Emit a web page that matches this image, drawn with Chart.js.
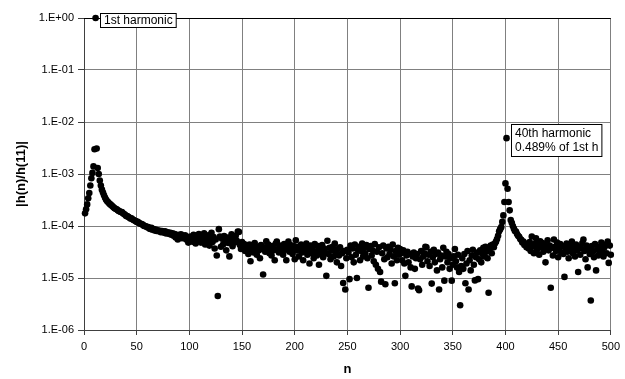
<!DOCTYPE html>
<html>
<head>
<meta charset="utf-8">
<script src="https://cdn.jsdelivr.net/npm/chart.js@4/dist/chart.umd.min.js"></script>
<style>
  body { margin: 0; background: #fff; }
  canvas { display: block; }
</style>
</head>
<body>
<canvas id="chart" width="625" height="379"></canvas>
<script>
// |h(n)/h(11)| for n = 1..500
const nStart = 1;
const ratio001to100 = [
  1.75e-4, 2.1e-4, 2.6e-4, 3.4e-4, 4.3e-4, 6.0e-4, 8.3e-4, 1.05e-3, 1.4e-3, 3.0e-3,
  1.0, 3.1e-3, 1.3e-3, 1.0e-3, 7.5e-4, 6.0e-4, 5.0e-4, 4.4e-4, 3.9e-4, 3.5e-4,
  3.2e-4, 3.0e-4, 2.85e-4, 2.7e-4, 2.6e-4, 2.5e-4, 2.4e-4, 2.3e-4, 2.2e-4, 2.15e-4,
  2.1e-4, 2.0e-4, 1.95e-4, 1.9e-4, 1.85e-4, 1.85e-4, 1.75e-4, 1.7e-4, 1.65e-4, 1.55e-4,
  1.55e-4, 1.5e-4, 1.45e-4, 1.4e-4, 1.4e-4, 1.35e-4, 1.3e-4, 1.28e-4, 1.25e-4, 1.2e-4,
  1.2e-4, 1.15e-4, 1.12e-4, 1.1e-4, 1.08e-4, 1.05e-4, 1.0e-4, 1.0e-4, 9.8e-5, 9.5e-5,
  9.5e-5, 9.0e-5, 8.8e-5, 9.2e-5, 8.5e-5, 8.7e-5, 8.2e-5, 8.5e-5, 8.0e-5, 8.3e-5,
  7.9e-5, 8.1e-5, 7.6e-5, 8.0e-5, 7.8e-5, 7.4e-5, 7.9e-5, 7.2e-5, 7.6e-5, 7.5e-5,
  7.0e-5, 7.4e-5, 6.8e-5, 7.2e-5, 6.5e-5, 7.0e-5, 6.0e-5, 6.8e-5, 5.5e-5, 6.7e-5,
  6.4e-5, 6.9e-5, 5.8e-5, 6.5e-5, 6.2e-5, 6.6e-5, 5.5e-5, 6.0e-5, 4.8e-5, 6.2e-5
];
const ratio101to200 = [
  5.5e-5, 6.3e-5, 5.0e-5, 6.8e-5, 5.8e-5, 4.6e-5, 6.5e-5, 5.2e-5, 7.0e-5, 5.6e-5,
  4.8e-5, 6.2e-5, 5.4e-5, 7.2e-5, 4.4e-5, 6.0e-5, 5.1e-5, 6.6e-5, 4.2e-5, 5.8e-5,
  7.4e-5, 4.9e-5, 6.1e-5, 3.7e-5, 5.5e-5, 2.7e-5, 4.5e-6, 8.7e-5, 6.3e-5, 4.0e-5,
  5.7e-5, 4.4e-5, 6.4e-5, 5.0e-5, 3.4e-5, 6.0e-5, 4.7e-5, 2.6e-5, 5.4e-5, 6.9e-5,
  4.1e-5, 5.9e-5, 4.8e-5, 6.5e-5, 5.2e-5, 7.8e-5, 7.7e-5, 4.3e-5, 3.6e-5, 4.9e-5,
  3.8e-5, 4.5e-5, 3.3e-5, 4.1e-5, 3.6e-5, 2.9e-5, 4.4e-5, 2.1e-5, 3.5e-5, 4.2e-5,
  3.1e-5, 4.7e-5, 3.7e-5, 2.8e-5, 4.0e-5, 3.4e-5, 2.4e-5, 4.3e-5, 3.6e-5, 1.17e-5,
  3.9e-5, 3.2e-5, 5.1e-5, 3.5e-5, 4.4e-5, 3.0e-5, 3.8e-5, 2.7e-5, 4.1e-5, 3.4e-5,
  2.2e-5, 4.6e-5, 5.0e-5, 3.6e-5, 3.1e-5, 4.2e-5, 3.3e-5, 3.9e-5, 2.8e-5, 4.5e-5,
  3.5e-5, 2.2e-5, 4.0e-5, 5.0e-5, 3.2e-5, 4.3e-5, 3.7e-5, 2.9e-5, 4.1e-5, 2.3e-5
];
const ratio201to300 = [
  5.3e-5, 3.4e-5, 4.0e-5, 2.6e-5, 3.7e-5, 4.4e-5, 3.1e-5, 2.2e-5, 3.9e-5, 3.3e-5,
  4.6e-5, 2.8e-5, 3.6e-5, 1.9e-5, 4.2e-5, 3.0e-5, 3.8e-5, 2.4e-5, 4.5e-5, 3.2e-5,
  2.7e-5, 4.1e-5, 1.8e-5, 3.5e-5, 2.9e-5, 4.3e-5, 2.5e-5, 3.7e-5, 3.1e-5, 1.1e-5,
  5.2e-5, 2.9e-5, 3.8e-5, 2.3e-5, 3.4e-5, 4.0e-5, 2.6e-5, 4.6e-5, 3.2e-5, 2.0e-5,
  3.6e-5, 2.7e-5, 3.9e-5, 1.7e-5, 3.0e-5, 8.0e-6, 3.3e-5, 6.0e-6, 2.4e-5, 3.5e-5,
  3.1e-5, 9.5e-6, 4.2e-5, 2.5e-5, 3.7e-5, 2.0e-5, 4.4e-5, 2.8e-5, 1.0e-5, 3.5e-5,
  4.0e-5, 2.2e-5, 3.3e-5, 4.6e-5, 2.6e-5, 3.8e-5, 3.0e-5, 4.3e-5, 2.4e-5, 6.5e-6,
  3.6e-5, 4.1e-5, 2.7e-5, 3.4e-5, 2.1e-5, 4.5e-5, 1.8e-5, 3.2e-5, 1.5e-5, 3.9e-5,
  1.3e-5, 8.5e-6, 3.0e-5, 4.2e-5, 2.3e-5, 7.6e-6, 3.7e-5, 2.5e-5, 4.0e-5, 2.9e-5,
  3.5e-5, 1.9e-5, 4.4e-5, 2.6e-5, 7.9e-6, 3.3e-5, 2.2e-5, 3.8e-5, 2.8e-5, 3.6e-5
];
const ratio301to400 = [
  3.0e-5, 2.2e-5, 3.4e-5, 1.9e-5, 1.1e-5, 2.7e-5, 3.2e-5, 2.0e-5, 2.9e-5, 1.6e-5,
  6.9e-6, 2.6e-5, 3.1e-5, 1.5e-5, 2.4e-5, 2.9e-5, 6.3e-6, 5.8e-6, 2.3e-5, 3.3e-5,
  1.8e-5, 2.6e-5, 3.0e-5, 4.0e-5, 3.9e-5, 2.1e-5, 2.8e-5, 1.7e-5, 3.2e-5, 7.8e-6,
  2.5e-5, 3.5e-5, 2.0e-5, 2.9e-5, 1.4e-5, 3.1e-5, 6.0e-6, 2.3e-5, 2.7e-5, 1.6e-5,
  3.8e-5, 8.9e-6, 2.6e-5, 3.2e-5, 2.0e-5, 2.9e-5, 1.5e-5, 2.4e-5, 8.9e-6, 1.8e-5,
  2.6e-5, 3.6e-5, 2.1e-5, 1.6e-5, 2.8e-5, 1.3e-5, 3.0e-6, 1.7e-5, 2.4e-5, 1.5e-5,
  2.9e-5, 7.9e-6, 1.9e-5, 3.3e-5, 6.0e-6, 2.2e-5, 1.4e-5, 2.7e-5, 3.5e-5, 1.8e-5,
  9.0e-6, 2.5e-5, 3.1e-5, 9.5e-6, 2.3e-5, 3.4e-5, 2.0e-5, 2.9e-5, 3.8e-5, 2.6e-5,
  4.0e-5, 3.2e-5, 2.4e-5, 5.2e-6, 3.6e-5, 4.2e-5, 3.0e-5, 4.4e-5, 3.9e-5, 4.6e-5,
  5.0e-5, 5.6e-5, 6.5e-5, 7.9e-5, 8.7e-5, 9.5e-5, 1.2e-4, 1.6e-4, 2.9e-4, 6.6e-4
];
const ratio401to500 = [
  4.89e-3, 5.2e-4, 2.9e-4, 2.0e-4, 1.3e-4, 1.15e-4, 1.0e-4, 8.9e-5, 8.0e-5, 7.8e-5,
  7.0e-5, 6.5e-5, 6.2e-5, 5.6e-5, 5.4e-5, 4.8e-5, 5.0e-5, 4.3e-5, 4.6e-5, 3.9e-5,
  4.5e-5, 3.7e-5, 4.9e-5, 3.3e-5, 6.3e-5, 4.1e-5, 3.0e-5, 4.6e-5, 5.8e-5, 3.5e-5,
  4.3e-5, 2.8e-5, 5.1e-5, 3.9e-5, 4.7e-5, 3.2e-5, 4.4e-5, 2.0e-5, 3.6e-5, 5.3e-5,
  3.4e-5, 4.2e-5, 6.5e-6, 3.8e-5, 2.7e-5, 5.5e-5, 4.0e-5, 3.3e-5, 4.8e-5, 2.5e-5,
  3.7e-5, 4.5e-5, 3.1e-5, 4.1e-5, 2.9e-5, 1.05e-5, 3.6e-5, 4.6e-5, 3.2e-5, 2.4e-5,
  4.3e-5, 3.5e-5, 5.0e-5, 3.0e-5, 3.9e-5, 2.6e-5, 4.4e-5, 3.4e-5, 1.3e-5, 4.0e-5,
  2.8e-5, 3.7e-5, 4.7e-5, 5.5e-5, 3.3e-5, 2.3e-5, 4.2e-5, 1.6e-5, 3.6e-5, 2.9e-5,
  3.7e-6, 4.1e-5, 3.2e-5, 2.5e-5, 4.5e-5, 1.4e-5, 3.5e-5, 2.7e-5, 4.0e-5, 3.1e-5,
  4.8e-5, 3.4e-5, 2.6e-5, 3.9e-5, 4.4e-5, 3.0e-5, 5.0e-5, 1.95e-5, 4.2e-5, 2.8e-5
];

const yTickValues = [1e-6, 1e-5, 1e-4, 1e-3, 1e-2, 1e-1, 1];
const yTickLabels = ['1.E-06', '1.E-05', '1.E-04', '1.E-03', '1.E-02', '1.E-01', '1.E+00'];
const xMin = 0, xMax = 500, xStep = 50;

const notes = [
  { n: 11, lines: ['1st harmonic'] },
  { n: 401, lines: ['40th harmonic', '0.489% of 1st h'] }
];

const FONT = '"Liberation Sans", Arial, sans-serif';

const ratios = [].concat(ratio001to100, ratio101to200, ratio201to300, ratio301to400, ratio401to500);
const points = ratios.map((v, i) => ({ x: nStart + i, y: v }));

// text boxes next to the two harmonics
const notePlugin = {
  id: 'notes',
  afterDatasetsDraw(chart) {
    const ctx = chart.ctx;
    const meta = chart.getDatasetMeta(0).data;
    const area = chart.chartArea;
    ctx.save();
    // dark top edge of the plot area
    ctx.strokeStyle = '#000';
    ctx.lineWidth = 1;
    ctx.beginPath();
    ctx.moveTo(area.left, Math.round(area.top) + 0.5);
    ctx.lineTo(area.right, Math.round(area.top) + 0.5);
    ctx.stroke();

    ctx.font = '12px ' + FONT;
    ctx.textBaseline = 'middle';
    notes.forEach(note => {
      const p = meta[note.n - nStart];
      const w = Math.max(...note.lines.map(t => ctx.measureText(t).width)) + 7;
      const h = 18 * note.lines.length - 4;
      const left = Math.round(p.x + 4) + 0.5;
      const top = Math.round(p.y + 1.5 - h / 2) + 0.5;
      ctx.fillStyle = '#fff';
      ctx.fillRect(left, top, w, h);
      ctx.strokeStyle = '#000';
      ctx.strokeRect(left, top, w, h);
      ctx.fillStyle = '#000';
      note.lines.forEach((t, i) => {
        ctx.fillText(t, left + 3.5, top + h / 2 + (i - (note.lines.length - 1) / 2) * 14);
      });
    });
    ctx.restore();
  }
};

new Chart(document.getElementById('chart'), {
  type: 'scatter',
  data: {
    datasets: [{
      data: points,
      backgroundColor: '#000',
      borderWidth: 0,
      pointRadius: 3.3,
      pointHoverRadius: 3.3,
      clip: false
    }]
  },
  options: {
    responsive: false,
    animation: false,
    layout: { padding: { top: 18, right: 12, left: 0, bottom: 0 } },
    plugins: {
      legend: { display: false },
      tooltip: { enabled: false }
    },
    scales: {
      x: {
        type: 'linear',
        min: xMin,
        max: xMax,
        afterFit(scale) { scale.height = 49; },
        ticks: {
          stepSize: xStep,
          padding: 5,
          color: '#000',
          font: { family: FONT, size: 11 }
        },
        grid: { color: '#808080', tickColor: '#404040', tickLength: 5 },
        border: { color: '#404040' },
        title: {
          display: true,
          text: 'n',
          color: '#000',
          padding: { top: 0, bottom: 2 },
          font: { family: FONT, size: 13, weight: 'bold' }
        }
      },
      y: {
        type: 'logarithmic',
        min: yTickValues[0],
        max: yTickValues[yTickValues.length - 1],
        afterFit(scale) { scale.width = 84; },
        afterBuildTicks(scale) {
          scale.ticks = yTickValues.map(v => ({ value: v }));
        },
        ticks: {
          padding: 4,
          color: '#000',
          font: { family: FONT, size: 11 },
          callback: (v) => yTickLabels[yTickValues.indexOf(v)] ?? ''
        },
        grid: { color: '#808080', tickColor: '#404040', tickLength: 6 },
        border: { color: '#404040' },
        title: {
          display: true,
          text: '|h(n)/h(11)|',
          color: '#000',
          padding: { top: 14, bottom: 0 },
          font: { family: FONT, size: 13, weight: 'bold' }
        }
      }
    }
  },
  plugins: [notePlugin]
});
</script>
</body>
</html>
